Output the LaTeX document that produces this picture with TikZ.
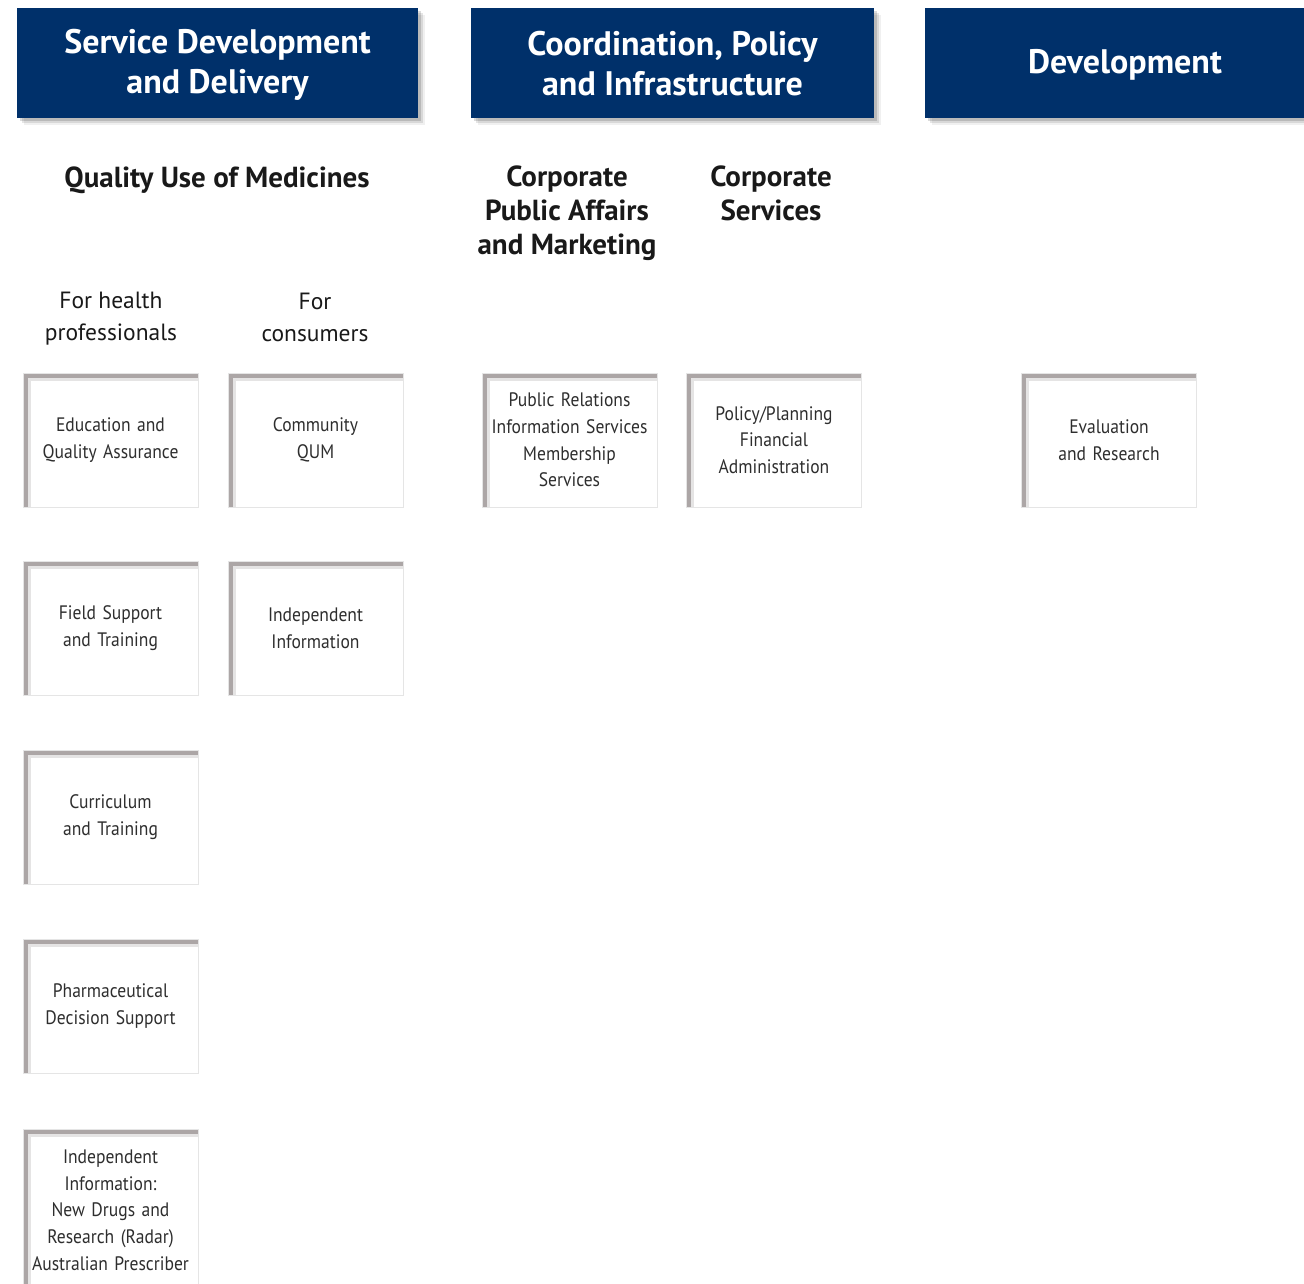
\documentclass[tikz,border=0pt]{standalone}
\usepackage{fontspec}
\setmainfont{PT Sans}[FakeStretch=0.9]
\newfontfamily\hfont{PT Sans}[FakeStretch=1.0]
\definecolor{navy}{HTML}{00306A}
\definecolor{txt}{HTML}{2E2E2E}
\definecolor{edge}{HTML}{ACA6A6}
\begin{document}
\begin{tikzpicture}[x=1pt,y=-1pt,
  hdr/.style={fill=navy, minimum width=401pt, minimum height=110pt, inner sep=0pt,
    preaction={fill=black,opacity=.14,transform canvas={xshift=3pt,yshift=-3pt}},
    preaction={fill=black,opacity=.10,transform canvas={xshift=5pt,yshift=-5pt}},
    preaction={fill=black,opacity=.06,transform canvas={xshift=7pt,yshift=-7pt}}},
  hdrtext/.style={text=white, align=center, inner sep=0pt,
    font=\hfont\bfseries\fontsize{34}{40}\selectfont},
  sub/.style={align=center, text=black!90, font=\hfont\bfseries\fontsize{29}{34}\selectfont},
  col/.style={align=center, text=black!90, font=\hfont\fontsize{23.5}{32}\selectfont},
  unit/.style={draw=black!10, line width=1pt, fill=white, minimum width=175pt,
    minimum height=134pt, text width=172pt, align=center, inner sep=0pt,
    text=txt, font=\fontsize{19.5}{26.7}\selectfont,
    path picture={
      \draw[edge, line width=15pt, opacity=.3]
        (path picture bounding box.south west) -- (path picture bounding box.north west)
        -- (path picture bounding box.north east);
      \draw[edge, line width=9pt]
        (path picture bounding box.south west) -- (path picture bounding box.north west)
        -- (path picture bounding box.north east);
    }}
]
\useasboundingbox (0,0) rectangle (1304,1284);
\clip (0,0) rectangle (1304,1284);

% headers
\node[hdr] (h1) at (217.5,63) {};
\node[hdr, minimum width=403pt] (h2) at (672.5,63) {};
\node[hdr, minimum width=400pt] (h3) at (1125,63) {};
\node[hdrtext] (h1t) at ([yshift=-2pt]h1.center) {Service Development\\and Delivery};
\node[hdrtext] (h2t) at ([yshift=-1pt]h2.center) {Coordination, Policy\\and Infrastructure};
\node[hdrtext] (h3t) at ([yshift=-2pt]h3.center) {Development};

% sub headings
\node[sub] (qum) at (217,180) {Quality Use of Medicines};
\node[sub] (cpa) at (567,213) {Corporate\\Public Affairs\\and Marketing};
\node[sub] (cs) at (771,193) {Corporate\\Services};
\node[col] (fhp) at (111,319) {For health\\professionals};
\node[col] (fc) at (315,317) {For\\consumers};

% units
\node[unit] (eqa) at (110.5,440) {Education and\\Quality Assurance};
\node[unit] (cq) at (315.5,440) {Community\\QUM};
\node[unit] (fst) at (110.5,628) {Field Support\\and Training};
\node[unit] (ii) at (315.5,628) {Independent\\Information};
\node[unit] (ct) at (110.5,817) {Curriculum\\and Training};
\node[unit] (pds) at (110.5,1006) {Pharmaceutical\\Decision Support};
\node[unit, minimum height=162pt] (iin) at (110.5,1210) {Independent\\Information:\\New Drugs and\\Research (Radar)\\Australian Prescriber};
\node[unit] (pr) at (569.5,440) {Public Relations\\Information Services\\Membership\\Services};
\node[unit] (pp) at (774,440) {Policy/Planning\\Financial\\Administration};
\node[unit] (er) at (1109,440) {Evaluation\\and Research};
\end{tikzpicture}
\end{document}
